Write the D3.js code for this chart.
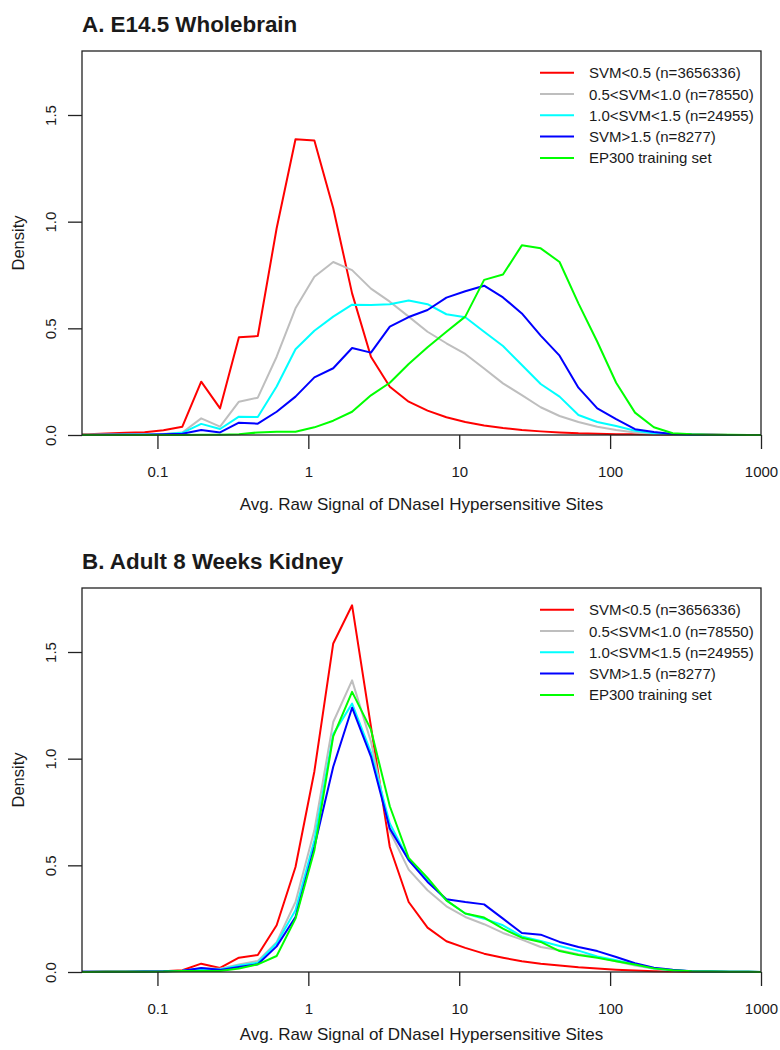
<!DOCTYPE html>
<html>
<head>
<meta charset="utf-8">
<script src="https://cdn.jsdelivr.net/npm/d3@7/dist/d3.min.js"></script>
<style>
  body { margin: 0; background: #fff; }
  svg { display: block; font-family: "Liberation Sans", Arial, sans-serif; }
  .axis text { fill: #1a1a1a; }
</style>
</head>
<body>
<svg id="chart" width="780" height="1050"></svg>
<script>
// bin midpoints (avg. raw signal), log-spaced; first and last fall just outside the plot
const signal = [0.0260, 0.0347, 0.0462, 0.0617, 0.0822, 0.1096, 0.1462, 0.1950, 0.2600, 0.3467,
	0.4624, 0.6166, 0.8222, 1.0965, 1.4622, 1.9498, 2.6002, 3.4674, 4.6238, 6.1660,
	8.2224, 10.965, 14.622, 19.498, 26.002, 34.674, 46.238, 61.660, 82.224, 109.65,
	146.22, 194.98, 260.02, 346.74, 462.38, 616.60, 822.24, 1096.5]

const seriesNames = ['SVM<0.5 (n=3656336)', '0.5<SVM<1.0 (n=78550)', '1.0<SVM<1.5 (n=24955)', 'SVM>1.5 (n=8277)', 'EP300 training set']
const seriesColors = ['#ff0000', '#bebebe', '#00ffff', '#0000ff', '#00ff00']
const panelTitles = ['A. E14.5 Wholebrain', 'B. Adult 8 Weeks Kidney']
const xTicks = [0.1, 1, 10, 100, 1000]
const yTicks = [0, 0.5, 1.0, 1.5]

// A. E14.5 Wholebrain
const brainSvmLow = [0.003, 0.004, 0.007, 0.011, 0.013, 0.022, 0.039, 0.25, 0.125, 0.458, 0.464, 0.969, 1.386, 1.38, 1.063, 0.664, 0.367, 0.226, 0.156, 0.114, 0.083, 0.061, 0.045, 0.033, 0.023, 0.017, 0.012, 0.008, 0.006, 0.004, 0.003, 0.002, 0.001, 0.001, 0.001, 0, 0, 0]
const brainSvmMid1 = [0.001, 0.001, 0.002, 0.002, 0.003, 0.005, 0.012, 0.078, 0.039, 0.156, 0.175, 0.367, 0.594, 0.742, 0.811, 0.773, 0.686, 0.625, 0.555, 0.484, 0.43, 0.38, 0.312, 0.242, 0.187, 0.13, 0.089, 0.061, 0.039, 0.023, 0.012, 0.005, 0.002, 0.001, 0.001, 0, 0, 0]
const brainSvmMid2 = [0, 0.001, 0.001, 0.002, 0.002, 0.004, 0.01, 0.052, 0.028, 0.086, 0.084, 0.227, 0.402, 0.489, 0.555, 0.611, 0.609, 0.613, 0.63, 0.613, 0.566, 0.552, 0.484, 0.417, 0.328, 0.239, 0.18, 0.094, 0.061, 0.042, 0.02, 0.008, 0.003, 0.001, 0, 0, 0, 0]
const brainSvmHigh = [0, 0, 0.001, 0.001, 0.001, 0.003, 0.006, 0.023, 0.012, 0.058, 0.053, 0.109, 0.18, 0.27, 0.313, 0.408, 0.386, 0.508, 0.553, 0.586, 0.644, 0.674, 0.7, 0.645, 0.57, 0.466, 0.372, 0.222, 0.125, 0.074, 0.027, 0.014, 0.005, 0.002, 0.001, 0, 0, 0]
const brainEp300 = [0, 0, 0, 0, 0, 0, 0, 0.001, 0.001, 0.003, 0.012, 0.015, 0.015, 0.036, 0.067, 0.109, 0.186, 0.245, 0.333, 0.411, 0.484, 0.555, 0.727, 0.752, 0.889, 0.875, 0.811, 0.617, 0.437, 0.245, 0.105, 0.036, 0.008, 0.003, 0.001, 0.001, 0, 0]

// B. Adult 8 Weeks Kidney
const kidneySvmLow = [0.001, 0.001, 0.002, 0.002, 0.003, 0.004, 0.008, 0.039, 0.019, 0.067, 0.08, 0.219, 0.492, 0.94, 1.54, 1.719, 1.15, 0.586, 0.328, 0.208, 0.144, 0.113, 0.086, 0.067, 0.05, 0.039, 0.031, 0.022, 0.016, 0.011, 0.007, 0.004, 0.002, 0.001, 0.001, 0, 0, 0]
const kidneySvmMid1 = [0.001, 0.001, 0.001, 0.002, 0.002, 0.003, 0.006, 0.017, 0.015, 0.035, 0.052, 0.14, 0.328, 0.664, 1.172, 1.367, 1.08, 0.66, 0.48, 0.383, 0.308, 0.258, 0.224, 0.183, 0.152, 0.117, 0.102, 0.083, 0.07, 0.05, 0.03, 0.015, 0.007, 0.004, 0.002, 0.001, 0.001, 0]
const kidneySvmMid2 = [0.001, 0.001, 0.001, 0.001, 0.002, 0.003, 0.006, 0.015, 0.012, 0.03, 0.044, 0.135, 0.289, 0.618, 1.115, 1.258, 1.03, 0.696, 0.525, 0.43, 0.336, 0.274, 0.25, 0.219, 0.167, 0.145, 0.122, 0.1, 0.073, 0.055, 0.035, 0.017, 0.008, 0.004, 0.002, 0.001, 0.001, 0]
const kidneySvmHigh = [0.001, 0.001, 0.001, 0.001, 0.002, 0.003, 0.006, 0.019, 0.01, 0.023, 0.036, 0.12, 0.258, 0.586, 0.962, 1.239, 1.01, 0.672, 0.525, 0.422, 0.341, 0.328, 0.317, 0.25, 0.183, 0.175, 0.141, 0.117, 0.098, 0.07, 0.041, 0.02, 0.01, 0.004, 0.002, 0.001, 0.001, 0]
const kidneyEp300 = [0, 0, 0.001, 0.001, 0.001, 0.002, 0.005, 0.005, 0.005, 0.016, 0.036, 0.075, 0.25, 0.57, 1.105, 1.313, 1.136, 0.777, 0.535, 0.441, 0.336, 0.274, 0.255, 0.203, 0.161, 0.141, 0.098, 0.08, 0.067, 0.05, 0.035, 0.017, 0.008, 0.004, 0.002, 0.001, 0.001, 0]

const panels = [
	{ title: panelTitles[0], series: [brainSvmLow, brainSvmMid1, brainSvmMid2, brainSvmHigh, brainEp300], xLabelGap: 75 },
	{ title: panelTitles[1], series: [kidneySvmLow, kidneySvmMid1, kidneySvmMid2, kidneySvmHigh, kidneyEp300], xLabelGap: 67.5 }
]

const svg = d3.select('#chart')
const margin = { left: 82, right: 19, top: 51 }
const plotW = 780 - margin.left - margin.right
const plotH = 384
const panelStep = 537
const axisColor = '#222'
const textColor = '#1a1a1a'

const x = d3.scaleLog().domain([Math.pow(10, -1.5), 1000]).range([0, plotW])
const y = d3.scaleLinear().domain([0, 1.8]).range([plotH, 0])
const line = d3.line()
	.x((d, i) => x(signal[i]))
	.y(d => y(d))

svg.append('defs').append('clipPath')
	.attr('id', 'plot-clip')
	.append('rect')
	.attr('width', plotW)
	.attr('height', plotH + 2)
	.attr('y', -1)

panels.forEach((p, pi) => {
	const top = margin.top + pi * panelStep
	const g = svg.append('g').attr('transform', `translate(${margin.left}, ${top})`)

	g.append('text')
		.attr('x', 0)
		.attr('y', -19)
		.attr('font-size', 22.4)
		.attr('font-weight', 'bold')
		.attr('fill', textColor)
		.text(p.title)

	// curves
	const curves = g.append('g').attr('clip-path', 'url(#plot-clip)')
	p.series.forEach((s, si) => {
		curves.append('path')
			.attr('d', line(s))
			.attr('fill', 'none')
			.attr('stroke', seriesColors[si])
			.attr('stroke-width', 2)
			.attr('stroke-linejoin', 'round')
	})

	// x axis
	const xAxis = g.append('g')
		.attr('class', 'axis')
		.attr('transform', `translate(0, ${plotH})`)
		.call(d3.axisBottom(x).tickValues(xTicks).tickFormat(d => String(d)).tickSize(14))
	xAxis.select('.domain').remove()
	xAxis.selectAll('line').attr('stroke', axisColor).attr('stroke-width', 1.3)
	xAxis.selectAll('text')
		.attr('y', 37)
		.attr('dy', '0.35em')
		.attr('font-size', 15)
		.attr('font-family', '"Liberation Sans", Arial, sans-serif')

	// y axis
	const yAxis = g.append('g')
		.attr('class', 'axis')
		.call(d3.axisLeft(y).tickValues(yTicks).tickFormat(d3.format('.1f')).tickSize(14))
	yAxis.select('.domain').remove()
	yAxis.selectAll('line').attr('stroke', axisColor).attr('stroke-width', 1.3)
	yAxis.selectAll('text')
		.attr('x', null)
		.attr('dy', null)
		.attr('transform', 'translate(-32, 0) rotate(-90)')
		.attr('text-anchor', 'middle')
		.attr('dominant-baseline', 'central')
		.attr('font-size', 15)
		.attr('font-family', '"Liberation Sans", Arial, sans-serif')

	// frame
	g.append('rect')
		.attr('width', plotW)
		.attr('height', plotH)
		.attr('fill', 'none')
		.attr('stroke', axisColor)
		.attr('stroke-width', 1.3)

	g.append('text')
		.attr('x', plotW / 2)
		.attr('y', plotH + p.xLabelGap)
		.attr('text-anchor', 'middle')
		.attr('font-size', 17)
		.attr('fill', textColor)
		.text('Avg. Raw Signal of DNaseI Hypersensitive Sites')

	g.append('text')
		.attr('transform', `translate(${-64}, ${plotH / 2}) rotate(-90)`)
		.attr('text-anchor', 'middle')
		.attr('dominant-baseline', 'central')
		.attr('font-size', 16.5)
		.attr('fill', textColor)
		.text('Density')

	// legend
	const legend = g.append('g').attr('transform', `translate(${540 - margin.left}, ${72.7 - margin.top})`)
	seriesNames.forEach((name, i) => {
		const row = legend.append('g').attr('transform', `translate(0, ${i * 21.3})`)
		row.append('line')
			.attr('x1', 0).attr('x2', 34)
			.attr('stroke', seriesColors[i])
			.attr('stroke-width', 2)
		row.append('text')
			.attr('x', 49)
			.attr('dominant-baseline', 'central')
			.attr('font-size', 15)
			.attr('fill', textColor)
			.text(name)
	})
})
</script>
</body>
</html>
